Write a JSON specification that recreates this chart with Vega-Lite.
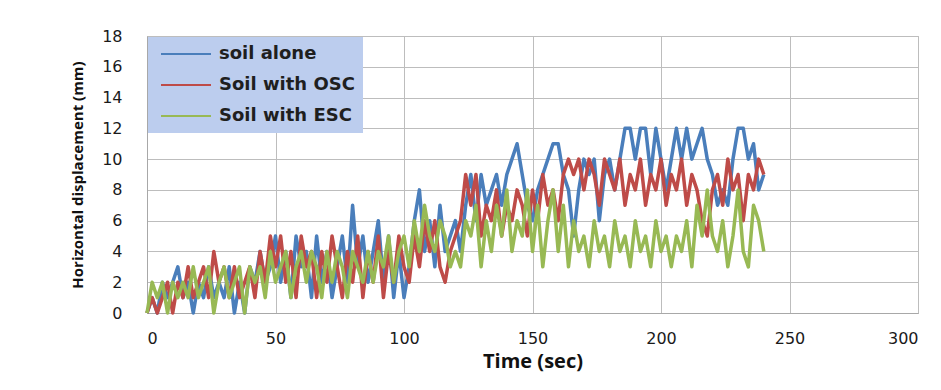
{
  "$schema": "https://vega.github.io/schema/vega-lite/v6.json",
  "width": 771,
  "height": 277,
  "autosize": {"type": "none"},
  "padding": {"left": 147, "top": 36, "right": 23, "bottom": 77},
  "background": "white",
  "data": {"values": [
    {"t":0,"s":"soil alone","v":0},{"t":2,"s":"soil alone","v":1},{"t":4,"s":"soil alone","v":0},{"t":6,"s":"soil alone","v":2},{"t":8,"s":"soil alone","v":1},{"t":10,"s":"soil alone","v":2},{"t":12,"s":"soil alone","v":3},{"t":14,"s":"soil alone","v":1},{"t":16,"s":"soil alone","v":2},{"t":18,"s":"soil alone","v":0},
    {"t":20,"s":"soil alone","v":2},{"t":22,"s":"soil alone","v":1},{"t":24,"s":"soil alone","v":3},{"t":26,"s":"soil alone","v":1},{"t":28,"s":"soil alone","v":2},{"t":30,"s":"soil alone","v":1},{"t":32,"s":"soil alone","v":3},{"t":34,"s":"soil alone","v":0},{"t":36,"s":"soil alone","v":2},{"t":38,"s":"soil alone","v":0},
    {"t":40,"s":"soil alone","v":3},{"t":42,"s":"soil alone","v":2},{"t":44,"s":"soil alone","v":4},{"t":46,"s":"soil alone","v":2},{"t":48,"s":"soil alone","v":3},{"t":50,"s":"soil alone","v":5},{"t":52,"s":"soil alone","v":2},{"t":54,"s":"soil alone","v":4},{"t":56,"s":"soil alone","v":1},{"t":58,"s":"soil alone","v":5},
    {"t":60,"s":"soil alone","v":3},{"t":62,"s":"soil alone","v":4},{"t":64,"s":"soil alone","v":1},{"t":66,"s":"soil alone","v":5},{"t":68,"s":"soil alone","v":2},{"t":70,"s":"soil alone","v":4},{"t":72,"s":"soil alone","v":1},{"t":74,"s":"soil alone","v":3},{"t":76,"s":"soil alone","v":5},{"t":78,"s":"soil alone","v":2},
    {"t":80,"s":"soil alone","v":7},{"t":82,"s":"soil alone","v":3},{"t":84,"s":"soil alone","v":5},{"t":86,"s":"soil alone","v":2},{"t":88,"s":"soil alone","v":4},{"t":90,"s":"soil alone","v":6},{"t":92,"s":"soil alone","v":2},{"t":94,"s":"soil alone","v":5},{"t":96,"s":"soil alone","v":1},{"t":98,"s":"soil alone","v":4},
    {"t":100,"s":"soil alone","v":1},{"t":102,"s":"soil alone","v":3},{"t":104,"s":"soil alone","v":6},{"t":106,"s":"soil alone","v":8},{"t":108,"s":"soil alone","v":4},{"t":110,"s":"soil alone","v":6},{"t":112,"s":"soil alone","v":3},{"t":114,"s":"soil alone","v":7},{"t":116,"s":"soil alone","v":4},{"t":118,"s":"soil alone","v":5},
    {"t":120,"s":"soil alone","v":6},{"t":122,"s":"soil alone","v":4},{"t":124,"s":"soil alone","v":7},{"t":126,"s":"soil alone","v":9},{"t":128,"s":"soil alone","v":6},{"t":130,"s":"soil alone","v":9},{"t":132,"s":"soil alone","v":7},{"t":134,"s":"soil alone","v":8},{"t":136,"s":"soil alone","v":9},{"t":138,"s":"soil alone","v":7},
    {"t":140,"s":"soil alone","v":9},{"t":142,"s":"soil alone","v":10},{"t":144,"s":"soil alone","v":11},{"t":146,"s":"soil alone","v":9},{"t":148,"s":"soil alone","v":7},{"t":150,"s":"soil alone","v":6},{"t":152,"s":"soil alone","v":8},{"t":154,"s":"soil alone","v":9},{"t":156,"s":"soil alone","v":10},{"t":158,"s":"soil alone","v":11},
    {"t":160,"s":"soil alone","v":11},{"t":162,"s":"soil alone","v":9},{"t":164,"s":"soil alone","v":8},{"t":166,"s":"soil alone","v":5},{"t":168,"s":"soil alone","v":8},{"t":170,"s":"soil alone","v":10},{"t":172,"s":"soil alone","v":9},{"t":174,"s":"soil alone","v":10},{"t":176,"s":"soil alone","v":6},{"t":178,"s":"soil alone","v":9},
    {"t":180,"s":"soil alone","v":10},{"t":182,"s":"soil alone","v":8},{"t":184,"s":"soil alone","v":10},{"t":186,"s":"soil alone","v":12},{"t":188,"s":"soil alone","v":12},{"t":190,"s":"soil alone","v":10},{"t":192,"s":"soil alone","v":12},{"t":194,"s":"soil alone","v":12},{"t":196,"s":"soil alone","v":9},{"t":198,"s":"soil alone","v":12},
    {"t":200,"s":"soil alone","v":10},{"t":202,"s":"soil alone","v":8},{"t":204,"s":"soil alone","v":10},{"t":206,"s":"soil alone","v":12},{"t":208,"s":"soil alone","v":10},{"t":210,"s":"soil alone","v":12},{"t":212,"s":"soil alone","v":10},{"t":214,"s":"soil alone","v":11},{"t":216,"s":"soil alone","v":12},{"t":218,"s":"soil alone","v":10},
    {"t":220,"s":"soil alone","v":9},{"t":222,"s":"soil alone","v":7},{"t":224,"s":"soil alone","v":8},{"t":226,"s":"soil alone","v":7},{"t":228,"s":"soil alone","v":10},{"t":230,"s":"soil alone","v":12},{"t":232,"s":"soil alone","v":12},{"t":234,"s":"soil alone","v":10},{"t":236,"s":"soil alone","v":11},{"t":238,"s":"soil alone","v":8},
    {"t":240,"s":"soil alone","v":9},

    {"t":0,"s":"Soil with OSC","v":0},{"t":2,"s":"Soil with OSC","v":1},{"t":4,"s":"Soil with OSC","v":0},{"t":6,"s":"Soil with OSC","v":1},{"t":8,"s":"Soil with OSC","v":2},{"t":10,"s":"Soil with OSC","v":0},{"t":12,"s":"Soil with OSC","v":2},{"t":14,"s":"Soil with OSC","v":1},{"t":16,"s":"Soil with OSC","v":3},{"t":18,"s":"Soil with OSC","v":1},
    {"t":20,"s":"Soil with OSC","v":2},{"t":22,"s":"Soil with OSC","v":3},{"t":24,"s":"Soil with OSC","v":1},{"t":26,"s":"Soil with OSC","v":4},{"t":28,"s":"Soil with OSC","v":2},{"t":30,"s":"Soil with OSC","v":3},{"t":32,"s":"Soil with OSC","v":1},{"t":34,"s":"Soil with OSC","v":3},{"t":36,"s":"Soil with OSC","v":1},{"t":38,"s":"Soil with OSC","v":2},
    {"t":40,"s":"Soil with OSC","v":3},{"t":42,"s":"Soil with OSC","v":1},{"t":44,"s":"Soil with OSC","v":4},{"t":46,"s":"Soil with OSC","v":2},{"t":48,"s":"Soil with OSC","v":5},{"t":50,"s":"Soil with OSC","v":3},{"t":52,"s":"Soil with OSC","v":5},{"t":54,"s":"Soil with OSC","v":2},{"t":56,"s":"Soil with OSC","v":4},{"t":58,"s":"Soil with OSC","v":1},
    {"t":60,"s":"Soil with OSC","v":5},{"t":62,"s":"Soil with OSC","v":3},{"t":64,"s":"Soil with OSC","v":4},{"t":66,"s":"Soil with OSC","v":1},{"t":68,"s":"Soil with OSC","v":4},{"t":70,"s":"Soil with OSC","v":2},{"t":72,"s":"Soil with OSC","v":5},{"t":74,"s":"Soil with OSC","v":3},{"t":76,"s":"Soil with OSC","v":1},{"t":78,"s":"Soil with OSC","v":4},
    {"t":80,"s":"Soil with OSC","v":2},{"t":82,"s":"Soil with OSC","v":5},{"t":84,"s":"Soil with OSC","v":1},{"t":86,"s":"Soil with OSC","v":4},{"t":88,"s":"Soil with OSC","v":2},{"t":90,"s":"Soil with OSC","v":5},{"t":92,"s":"Soil with OSC","v":1},{"t":94,"s":"Soil with OSC","v":4},{"t":96,"s":"Soil with OSC","v":2},{"t":98,"s":"Soil with OSC","v":5},
    {"t":100,"s":"Soil with OSC","v":3},{"t":102,"s":"Soil with OSC","v":2},{"t":104,"s":"Soil with OSC","v":5},{"t":106,"s":"Soil with OSC","v":3},{"t":108,"s":"Soil with OSC","v":6},{"t":110,"s":"Soil with OSC","v":4},{"t":112,"s":"Soil with OSC","v":6},{"t":114,"s":"Soil with OSC","v":3},{"t":116,"s":"Soil with OSC","v":2},{"t":118,"s":"Soil with OSC","v":4},
    {"t":120,"s":"Soil with OSC","v":5},{"t":122,"s":"Soil with OSC","v":6},{"t":124,"s":"Soil with OSC","v":9},{"t":126,"s":"Soil with OSC","v":7},{"t":128,"s":"Soil with OSC","v":9},{"t":130,"s":"Soil with OSC","v":5},{"t":132,"s":"Soil with OSC","v":7},{"t":134,"s":"Soil with OSC","v":6},{"t":136,"s":"Soil with OSC","v":8},{"t":138,"s":"Soil with OSC","v":5},
    {"t":140,"s":"Soil with OSC","v":7},{"t":142,"s":"Soil with OSC","v":6},{"t":144,"s":"Soil with OSC","v":8},{"t":146,"s":"Soil with OSC","v":7},{"t":148,"s":"Soil with OSC","v":5},{"t":150,"s":"Soil with OSC","v":8},{"t":152,"s":"Soil with OSC","v":6},{"t":154,"s":"Soil with OSC","v":9},{"t":156,"s":"Soil with OSC","v":7},{"t":158,"s":"Soil with OSC","v":8},
    {"t":160,"s":"Soil with OSC","v":6},{"t":162,"s":"Soil with OSC","v":9},{"t":164,"s":"Soil with OSC","v":10},{"t":166,"s":"Soil with OSC","v":9},{"t":168,"s":"Soil with OSC","v":10},{"t":170,"s":"Soil with OSC","v":8},{"t":172,"s":"Soil with OSC","v":10},{"t":174,"s":"Soil with OSC","v":9},{"t":176,"s":"Soil with OSC","v":7},{"t":178,"s":"Soil with OSC","v":10},
    {"t":180,"s":"Soil with OSC","v":9},{"t":182,"s":"Soil with OSC","v":8},{"t":184,"s":"Soil with OSC","v":10},{"t":186,"s":"Soil with OSC","v":7},{"t":188,"s":"Soil with OSC","v":9},{"t":190,"s":"Soil with OSC","v":8},{"t":192,"s":"Soil with OSC","v":10},{"t":194,"s":"Soil with OSC","v":7},{"t":196,"s":"Soil with OSC","v":9},{"t":198,"s":"Soil with OSC","v":8},
    {"t":200,"s":"Soil with OSC","v":10},{"t":202,"s":"Soil with OSC","v":7},{"t":204,"s":"Soil with OSC","v":9},{"t":206,"s":"Soil with OSC","v":8},{"t":208,"s":"Soil with OSC","v":10},{"t":210,"s":"Soil with OSC","v":7},{"t":212,"s":"Soil with OSC","v":9},{"t":214,"s":"Soil with OSC","v":8},{"t":216,"s":"Soil with OSC","v":6},{"t":218,"s":"Soil with OSC","v":5},
    {"t":220,"s":"Soil with OSC","v":8},{"t":222,"s":"Soil with OSC","v":9},{"t":224,"s":"Soil with OSC","v":7},{"t":226,"s":"Soil with OSC","v":10},{"t":228,"s":"Soil with OSC","v":8},{"t":230,"s":"Soil with OSC","v":9},{"t":232,"s":"Soil with OSC","v":6},{"t":234,"s":"Soil with OSC","v":9},{"t":236,"s":"Soil with OSC","v":8},{"t":238,"s":"Soil with OSC","v":10},
    {"t":240,"s":"Soil with OSC","v":9},

    {"t":0,"s":"Soil with ESC","v":0},{"t":2,"s":"Soil with ESC","v":2},{"t":4,"s":"Soil with ESC","v":1},{"t":6,"s":"Soil with ESC","v":2},{"t":8,"s":"Soil with ESC","v":0},{"t":10,"s":"Soil with ESC","v":2},{"t":12,"s":"Soil with ESC","v":1},{"t":14,"s":"Soil with ESC","v":2},{"t":16,"s":"Soil with ESC","v":1},{"t":18,"s":"Soil with ESC","v":3},
    {"t":20,"s":"Soil with ESC","v":1},{"t":22,"s":"Soil with ESC","v":2},{"t":24,"s":"Soil with ESC","v":3},{"t":26,"s":"Soil with ESC","v":0},{"t":28,"s":"Soil with ESC","v":2},{"t":30,"s":"Soil with ESC","v":3},{"t":32,"s":"Soil with ESC","v":1},{"t":34,"s":"Soil with ESC","v":2},{"t":36,"s":"Soil with ESC","v":3},{"t":38,"s":"Soil with ESC","v":0},
    {"t":40,"s":"Soil with ESC","v":3},{"t":42,"s":"Soil with ESC","v":2},{"t":44,"s":"Soil with ESC","v":3},{"t":46,"s":"Soil with ESC","v":1},{"t":48,"s":"Soil with ESC","v":4},{"t":50,"s":"Soil with ESC","v":2},{"t":52,"s":"Soil with ESC","v":3},{"t":54,"s":"Soil with ESC","v":4},{"t":56,"s":"Soil with ESC","v":1},{"t":58,"s":"Soil with ESC","v":3},
    {"t":60,"s":"Soil with ESC","v":4},{"t":62,"s":"Soil with ESC","v":2},{"t":64,"s":"Soil with ESC","v":4},{"t":66,"s":"Soil with ESC","v":3},{"t":68,"s":"Soil with ESC","v":1},{"t":70,"s":"Soil with ESC","v":4},{"t":72,"s":"Soil with ESC","v":2},{"t":74,"s":"Soil with ESC","v":4},{"t":76,"s":"Soil with ESC","v":3},{"t":78,"s":"Soil with ESC","v":1},
    {"t":80,"s":"Soil with ESC","v":4},{"t":82,"s":"Soil with ESC","v":3},{"t":84,"s":"Soil with ESC","v":2},{"t":86,"s":"Soil with ESC","v":4},{"t":88,"s":"Soil with ESC","v":2},{"t":90,"s":"Soil with ESC","v":4},{"t":92,"s":"Soil with ESC","v":3},{"t":94,"s":"Soil with ESC","v":5},{"t":96,"s":"Soil with ESC","v":2},{"t":98,"s":"Soil with ESC","v":4},
    {"t":100,"s":"Soil with ESC","v":5},{"t":102,"s":"Soil with ESC","v":3},{"t":104,"s":"Soil with ESC","v":6},{"t":106,"s":"Soil with ESC","v":4},{"t":108,"s":"Soil with ESC","v":7},{"t":110,"s":"Soil with ESC","v":5},{"t":112,"s":"Soil with ESC","v":4},{"t":114,"s":"Soil with ESC","v":6},{"t":116,"s":"Soil with ESC","v":5},{"t":118,"s":"Soil with ESC","v":3},
    {"t":120,"s":"Soil with ESC","v":4},{"t":122,"s":"Soil with ESC","v":3},{"t":124,"s":"Soil with ESC","v":6},{"t":126,"s":"Soil with ESC","v":5},{"t":128,"s":"Soil with ESC","v":7},{"t":130,"s":"Soil with ESC","v":3},{"t":132,"s":"Soil with ESC","v":6},{"t":134,"s":"Soil with ESC","v":4},{"t":136,"s":"Soil with ESC","v":7},{"t":138,"s":"Soil with ESC","v":5},
    {"t":140,"s":"Soil with ESC","v":8},{"t":142,"s":"Soil with ESC","v":4},{"t":144,"s":"Soil with ESC","v":6},{"t":146,"s":"Soil with ESC","v":5},{"t":148,"s":"Soil with ESC","v":8},{"t":150,"s":"Soil with ESC","v":4},{"t":152,"s":"Soil with ESC","v":7},{"t":154,"s":"Soil with ESC","v":3},{"t":156,"s":"Soil with ESC","v":6},{"t":158,"s":"Soil with ESC","v":8},
    {"t":160,"s":"Soil with ESC","v":4},{"t":162,"s":"Soil with ESC","v":7},{"t":164,"s":"Soil with ESC","v":3},{"t":166,"s":"Soil with ESC","v":6},{"t":168,"s":"Soil with ESC","v":4},{"t":170,"s":"Soil with ESC","v":5},{"t":172,"s":"Soil with ESC","v":3},{"t":174,"s":"Soil with ESC","v":6},{"t":176,"s":"Soil with ESC","v":4},{"t":178,"s":"Soil with ESC","v":5},
    {"t":180,"s":"Soil with ESC","v":3},{"t":182,"s":"Soil with ESC","v":6},{"t":184,"s":"Soil with ESC","v":4},{"t":186,"s":"Soil with ESC","v":5},{"t":188,"s":"Soil with ESC","v":3},{"t":190,"s":"Soil with ESC","v":6},{"t":192,"s":"Soil with ESC","v":4},{"t":194,"s":"Soil with ESC","v":5},{"t":196,"s":"Soil with ESC","v":3},{"t":198,"s":"Soil with ESC","v":6},
    {"t":200,"s":"Soil with ESC","v":4},{"t":202,"s":"Soil with ESC","v":5},{"t":204,"s":"Soil with ESC","v":3},{"t":206,"s":"Soil with ESC","v":5},{"t":208,"s":"Soil with ESC","v":4},{"t":210,"s":"Soil with ESC","v":6},{"t":212,"s":"Soil with ESC","v":3},{"t":214,"s":"Soil with ESC","v":7},{"t":216,"s":"Soil with ESC","v":5},{"t":218,"s":"Soil with ESC","v":8},
    {"t":220,"s":"Soil with ESC","v":5},{"t":222,"s":"Soil with ESC","v":4},{"t":224,"s":"Soil with ESC","v":6},{"t":226,"s":"Soil with ESC","v":3},{"t":228,"s":"Soil with ESC","v":5},{"t":230,"s":"Soil with ESC","v":8},{"t":232,"s":"Soil with ESC","v":4},{"t":234,"s":"Soil with ESC","v":3},{"t":236,"s":"Soil with ESC","v":7},{"t":238,"s":"Soil with ESC","v":6},
    {"t":240,"s":"Soil with ESC","v":4}
  ]},
  "mark": {"type": "line", "strokeWidth": 3.5, "strokeJoin": "round"},
  "encoding": {
    "x": {
      "field": "t", "type": "quantitative",
      "scale": {"domain": [0, 300], "nice": false},
      "axis": {"values": [0, 50, 100, 150, 200, 250, 300], "title": "Time (sec)", "titleFontSize": 20, "titlePadding": 5}
    },
    "y": {
      "field": "v", "type": "quantitative",
      "scale": {"domain": [0, 18], "nice": false},
      "axis": {"values": [0, 2, 4, 6, 8, 10, 12, 14, 16, 18], "title": "Horizontal displacement (mm)", "titleFontSize": 15, "titlePadding": 16, "labelPadding": 25}
    },
    "color": {
      "field": "s", "type": "nominal",
      "scale": {"domain": ["soil alone", "Soil with OSC", "Soil with ESC"], "range": ["#4a7ebb", "#be4b48", "#98b954"]},
      "legend": {
        "title": null, "orient": "none", "legendX": 1, "legendY": 1,
        "symbolType": "M-4,0H4", "symbolSize": 156.25, "symbolStrokeWidth": 2,
        "symbolOffset": 21, "labelOffset": 24,
        "labelFontSize": 18, "labelFont": "DejaVu Sans", "labelFontWeight": "bold", "labelColor": "#1f1f1f",
        "padding": 8, "rowPadding": 13,
        "fillColor": "#bccdee"
      }
    }
  },
  "config": {
    "view": {"stroke": "#b8b8b8"},
    "axis": {
      "labelFont": "DejaVu Sans", "labelFontSize": 16, "labelColor": "#1a1a1a",
      "titleFont": "Open Sans", "titleFontWeight": "bold", "titleColor": "#111",
      "gridColor": "#bdbdbd", "gridOpacity": 1, "ticks": false,
      "domainColor": "#a8a8a8"
    },
    "axisX": {"labelPadding": 17}
  }
}
